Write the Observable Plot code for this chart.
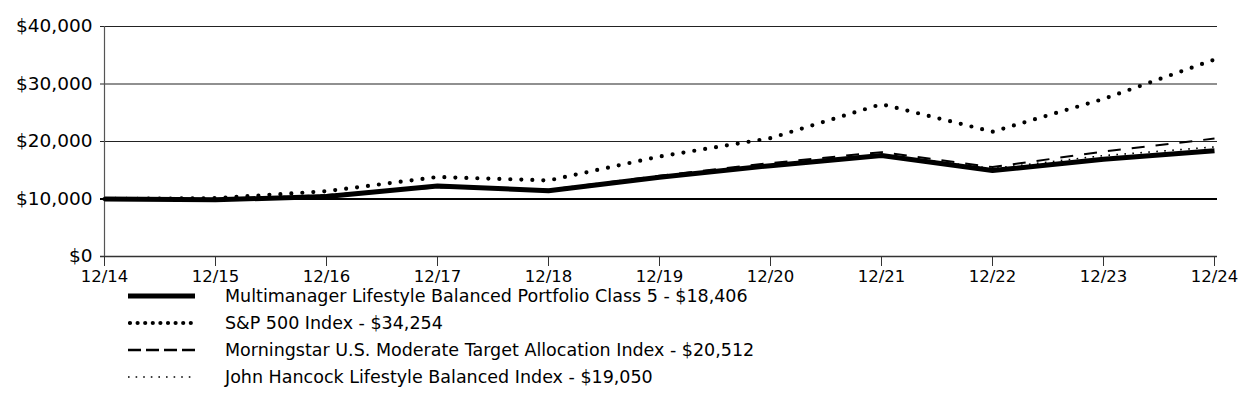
<!DOCTYPE html>
<html>
<head>
<meta charset="utf-8">
<script src="https://cdn.jsdelivr.net/npm/d3@7"></script>
<script src="https://cdn.jsdelivr.net/npm/@observablehq/plot@0.6"></script>
<style>
  html, body { margin: 0; padding: 0; background: #fff; }
  body { width: 1250px; height: 417px; overflow: hidden; font-family: "DejaVu Sans", sans-serif; }
  #legend { position: absolute; left: 0; top: 288px; }
  .row { position: absolute; left: 0; height: 27px; width: 900px; }
  .row svg { position: absolute; left: 128px; top: 0; }
  .row span { position: absolute; left: 225px; top: 0; font-size: 17.5px; line-height: 16px; color: #000; white-space: nowrap; }
</style>
</head>
<body>
<div id="chart" style="position:absolute;left:0;top:0;"></div>
<div id="legend"></div>
<script>
const periods = ["12/14","12/15","12/16","12/17","12/18","12/19","12/20","12/21","12/22","12/23","12/24"];
const fund = [10000, 9850, 10450, 12250, 11450, 13800, 15800, 17550, 14950, 16900, 18406];
const sp500 = [10000, 10138, 11351, 13829, 13223, 17386, 20585, 26494, 21696, 27400, 34254];
const morningstar = [10000, 9900, 10700, 12000, 11600, 14050, 16250, 18150, 15550, 18250, 20512];
const jhIndex = [10000, 9900, 10600, 12100, 11500, 13800, 15950, 17750, 15300, 17550, 19050];
const yTicks = [0, 10000, 20000, 30000, 40000];
const seriesNames = [
  "Multimanager Lifestyle Balanced Portfolio Class 5 - $18,406",
  "S&P 500 Index - $34,254",
  "Morningstar U.S. Moderate Target Allocation Index - $20,512",
  "John Hancock Lifestyle Balanced Index - $19,050"
];

const styles = [
  {strokeWidth: 5, strokeDasharray: null, strokeLinecap: "butt"},
  {strokeWidth: 4.2, strokeDasharray: "0 11", strokeLinecap: "round"},
  {strokeWidth: 2, strokeDasharray: "13 11", strokeLinecap: "butt"},
  {strokeWidth: 1.6, strokeDasharray: "1.6 6.4", strokeLinecap: "butt"}
];
const allSeries = [fund, sp500, morningstar, jhIndex];

const toRows = (vals) => vals.map((v, i) => ({period: periods[i], value: v}));
const fmt = d3.format(",");

const lineMarks = [];
[1, 2, 3, 0].forEach(k => {
  const s = styles[k];
  const opts = {x: "period", y: "value", stroke: "#000", strokeWidth: s.strokeWidth, strokeLinecap: s.strokeLinecap, strokeLinejoin: "round"};
  if (s.strokeDasharray) opts.strokeDasharray = s.strokeDasharray;
  lineMarks.push(Plot.line(toRows(allSeries[k]), opts));
});

const chart = Plot.plot({
  width: 1250,
  height: 290,
  marginLeft: 100,
  marginRight: 33,
  marginTop: 26,
  marginBottom: 34,
  style: {fontFamily: "'DejaVu Sans', sans-serif", fontSize: "17px", color: "#000", background: "transparent", overflow: "visible"},
  x: {type: "point", domain: periods, padding: 0},
  y: {domain: [0, 40000]},
  marks: [
    Plot.ruleY([20000, 30000, 40000], {stroke: "#222", strokeWidth: 1.2}),
    Plot.ruleY([10000], {stroke: "#000", strokeWidth: 2}),
    Plot.ruleY([0], {stroke: "#333", strokeWidth: 1.6}),
    Plot.ruleX([periods[0]], {stroke: "#555", strokeWidth: 1.2}),
    Plot.axisY({ticks: yTicks, tickSize: 0, tickPadding: 8, tickFormat: d => "$" + fmt(d), fontSize: 18.5, label: null}),
    Plot.axisX({tickSize: 10, tickPadding: 4, fontSize: 16.5, label: null, stroke: "#333"}),
    ...lineMarks
  ]
});
document.getElementById("chart").appendChild(chart);

const legend = document.getElementById("legend");
seriesNames.forEach((name, i) => {
  const row = document.createElement("div");
  row.className = "row";
  row.style.top = (i * 27) + "px";
  const s = styles[i];
  const svg = d3.create("svg").attr("width", 70).attr("height", 16);
  svg.append("line")
    .attr("x1", s.strokeLinecap === "round" ? 2 : 0).attr("x2", 67)
    .attr("y1", 8).attr("y2", 8)
    .attr("stroke", "#000")
    .attr("stroke-width", i === 2 ? 2.6 : s.strokeWidth)
    .attr("stroke-linecap", s.strokeLinecap)
    .attr("stroke-dasharray", i === 1 ? "0 7.6" : (i === 2 ? "13 5" : (i === 3 ? "1.6 6" : null)));
  row.appendChild(svg.node());
  const span = document.createElement("span");
  span.textContent = name;
  row.appendChild(span);
  legend.appendChild(row);
});
</script>
</body>
</html>
